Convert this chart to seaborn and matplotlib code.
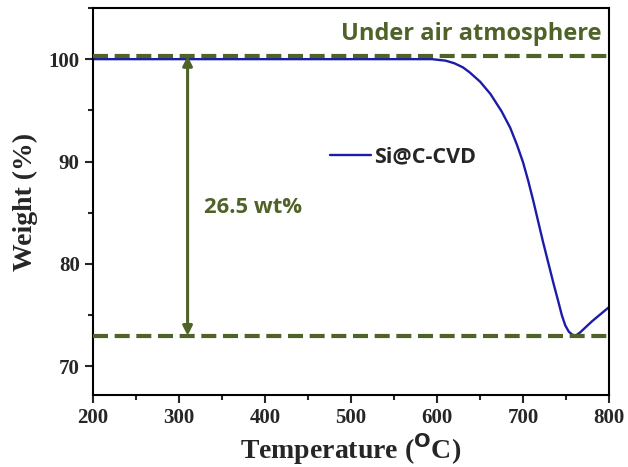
import matplotlib
matplotlib.use("Agg")
import matplotlib.pyplot as plt
import seaborn as sns
from matplotlib.ticker import MultipleLocator

# TGA curve
temperature = [200, 300, 400, 500, 560, 594, 610, 620, 630, 638, 650, 662, 675, 685, 693,
               700, 706, 712, 723, 735, 741, 745, 749, 753, 757, 761, 766, 780, 800]
weight = [100.0, 100.0, 100.0, 100.0, 100.0, 100.0, 99.85, 99.6, 99.2, 98.7, 97.8, 96.6,
          94.9, 93.3, 91.6, 89.9, 88.1, 86.1, 82.2, 78.2, 76.3, 75.0, 74.0, 73.4, 73.1,
          73.0, 73.3, 74.4, 75.8]
series_name = "Si@C-CVD"

start_level = 100.3
end_level = 73.0
loss_label = "26.5 wt%"
arrow_temp = 310
note = "Under air atmosphere"

green = "#4f6228"
blue = "#1c1ca8"

sns.set_style("ticks")
plt.rcParams["font.family"] = ["Liberation Serif", "DejaVu Serif"]

fig = plt.figure(figsize=(6.28, 4.67), dpi=100)
ax = fig.add_axes([0.148, 0.154, 0.822, 0.829])

sns.lineplot(x=temperature, y=weight, color=blue, linewidth=1.7, label=series_name, ax=ax)

for lvl in (start_level, end_level):
    ax.axhline(lvl, color=green, linewidth=3, linestyle=(0, (3.6, 1.6)), zorder=3)

ax.annotate("", xy=(arrow_temp, end_level), xytext=(arrow_temp, start_level),
            arrowprops=dict(arrowstyle="<|-|>", color=green, lw=2.2,
                            mutation_scale=14, shrinkA=0, shrinkB=0))
ax.text(329, 85.5, loss_label, color=green, fontsize=15.8, fontweight="bold",
        family="Open Sans", va="center", ha="left")
ax.text(0.985, 0.963, note, transform=ax.transAxes, color=green, fontsize=17,
        fontweight="bold", family="Open Sans", va="top", ha="right")

ax.set_xlim(200, 800)
ax.set_ylim(67.2, 105)
ax.xaxis.set_major_locator(MultipleLocator(100))
ax.xaxis.set_minor_locator(MultipleLocator(50))
ax.yaxis.set_major_locator(MultipleLocator(10))
ax.yaxis.set_minor_locator(MultipleLocator(5))
ax.tick_params(which="both", direction="out", top=False, right=False, width=1.5)
ax.tick_params(which="major", length=6, labelsize=15)
ax.tick_params(which="minor", length=3.5)
for lab in ax.get_xticklabels() + ax.get_yticklabels():
    lab.set_fontweight("bold")
for sp in ax.spines.values():
    sp.set_linewidth(1.5)
    sp.set_color("black")

ax.set_xlabel("Temperature ($\\mathbf{^{O}}$C)", fontsize=20, fontweight="bold", labelpad=2)
ax.set_ylabel("Weight (%)", fontsize=20, fontweight="bold", labelpad=8)

leg = ax.legend(loc="center left", bbox_to_anchor=(0.459, 0.615), frameon=False,
                borderpad=0, borderaxespad=0, handlelength=1.9, handletextpad=0.15,
                prop={"family": "Open Sans", "weight": "bold", "size": 15.5})

fig.savefig("out.png", dpi=100)
